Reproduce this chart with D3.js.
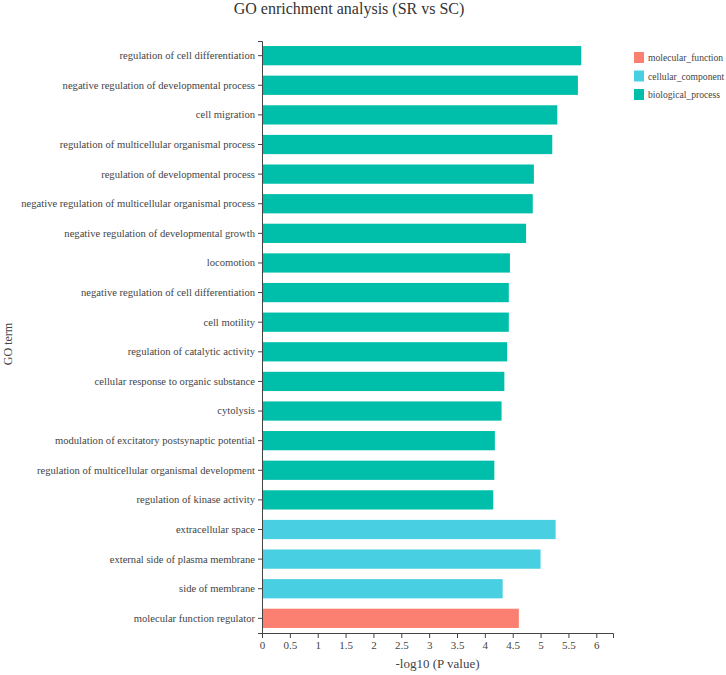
<!DOCTYPE html>
<html>
<head>
<meta charset="utf-8">
<script src="https://cdn.jsdelivr.net/npm/d3@7"></script>
<style>
  body { margin: 0; background: #fff; }
  svg { display: block; font-family: "Liberation Serif", "DejaVu Serif", serif; }
  .axis path, .axis line { stroke: #444; }
  .axis text { fill: #444; }
</style>
</head>
<body>
<div id="chart"></div>
<script>
// GO terms, top to bottom as drawn
const terms = [
    'regulation of cell differentiation',
    'negative regulation of developmental process',
    'cell migration',
    'regulation of multicellular organismal process',
    'regulation of developmental process',
    'negative regulation of multicellular organismal process',
    'negative regulation of developmental growth',
    'locomotion',
    'negative regulation of cell differentiation',
    'cell motility',
    'regulation of catalytic activity',
    'cellular response to organic substance',
    'cytolysis',
    'modulation of excitatory postsynaptic potential',
    'regulation of multicellular organismal development',
    'regulation of kinase activity',
    'extracellular space',
    'external side of plasma membrane',
    'side of membrane',
    'molecular function regulator',
];
const logP = [5.73, 5.67, 5.30, 5.21, 4.88, 4.86, 4.74, 4.45, 4.43, 4.43,
              4.40, 4.35, 4.30, 4.18, 4.17, 4.15, 5.27, 5.00, 4.32, 4.61];
const ontology = [
    'biological_process', 'biological_process', 'biological_process', 'biological_process',
    'biological_process', 'biological_process', 'biological_process', 'biological_process',
    'biological_process', 'biological_process', 'biological_process', 'biological_process',
    'biological_process', 'biological_process', 'biological_process', 'biological_process',
    'cellular_component', 'cellular_component', 'cellular_component', 'molecular_function',
];
const groups = ['molecular_function', 'cellular_component', 'biological_process'];
const groupColors = ['#fb8072', '#48d0e2', '#00bfaa'];
const xTicks = [0, 0.5, 1, 1.5, 2, 2.5, 3, 3.5, 4, 4.5, 5, 5.5, 6];

const W = 726, H = 675;
const m = { top: 41, right: 113, bottom: 42, left: 262 };

const svg = d3.select('#chart').append('svg').attr('width', W).attr('height', H);

const x = d3.scaleLinear().domain([0, 6.3]).range([m.left, W - m.right]);
const y = d3.scaleBand().domain(terms).range([m.top, H - m.bottom]).paddingInner(0.35).paddingOuter(0.17);
const color = d3.scaleOrdinal().domain(groups).range(groupColors);

svg.append('text')
    .attr('x', 349).attr('y', 14)
    .attr('text-anchor', 'middle')
    .attr('font-size', 16).attr('fill', '#333')
    .text('GO enrichment analysis (SR vs SC)');

const rows = terms.map((t, i) => ({ term: t, value: logP[i], group: ontology[i] }));

svg.append('g').selectAll('rect').data(rows).join('rect')
    .attr('x', x(0))
    .attr('y', (d) => y(d.term))
    .attr('width', (d) => x(d.value) - x(0))
    .attr('height', y.bandwidth())
    .attr('fill', (d) => color(d.group));

const xAxis = svg.append('g').attr('class', 'axis')
    .attr('transform', `translate(0,${H - m.bottom})`)
    .call(d3.axisBottom(x).tickValues(xTicks).tickFormat(d3.format('')).tickSize(5).tickSizeOuter(5));
xAxis.selectAll('text').attr('font-size', 11).attr('font-family', 'Liberation Serif');

const yAxis = svg.append('g').attr('class', 'axis')
    .attr('transform', `translate(${m.left},0)`)
    .call(d3.axisLeft(y).tickSize(4).tickSizeOuter(4));
yAxis.selectAll('text').attr('font-size', 10.6).attr('font-family', 'Liberation Serif');

svg.append('text')
    .attr('x', (x(0) + x(6.3)) / 2).attr('y', 668)
    .attr('text-anchor', 'middle')
    .attr('font-size', 13).attr('fill', '#444')
    .text('-log10 (P value)');

svg.append('text')
    .attr('transform', 'translate(12,344) rotate(-90)')
    .attr('text-anchor', 'middle')
    .attr('font-size', 12).attr('fill', '#444')
    .text('GO term');

// legend, top right
const legend = svg.append('g').attr('transform', 'translate(634,52)');
const item = legend.selectAll('g').data(groups).join('g')
    .attr('transform', (d, i) => `translate(0,${i * 18.5})`);
item.append('rect').attr('width', 10).attr('height', 11).attr('fill', (d) => color(d));
item.append('text').attr('x', 14).attr('y', 9)
    .attr('font-size', 9.6).attr('fill', '#444')
    .text((d) => d);
</script>
</body>
</html>
